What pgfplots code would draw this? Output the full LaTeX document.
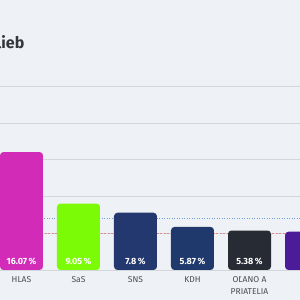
\documentclass[border=0pt]{standalone}
\usepackage{pgfplots}
\pgfplotsset{compat=1.18}
\usepackage{fontspec}
\setmainfont{Fira Sans}
\definecolor{bgcol}{HTML}{EEF1F5}
\definecolor{gridcol}{HTML}{D3D6DA}
\definecolor{cHLAS}{HTML}{D12BB8}
\definecolor{cSaS}{HTML}{7BFC06}
\definecolor{cSNS}{HTML}{22386F}
\definecolor{cKDH}{HTML}{1F396C}
\definecolor{cOLANO}{HTML}{272B33}
\definecolor{cDem}{HTML}{4B1B99}
\definecolor{labcol}{HTML}{4A4D52}
\definecolor{titcol}{HTML}{33363B}
\definecolor{redth}{HTML}{E08A85}
\definecolor{blueth}{HTML}{6E9FD8}
\begin{document}
\begin{tikzpicture}
\begin{axis}[
  name=ax,
  at={(0pt,0pt)}, anchor=south west,
  scale only axis, width=300pt, height=300pt,
  xmin=-0.377, xmax=4.886,
  ymin=-4.087, ymax=36.78,
  axis line style={draw=none},
  tick style={draw=none},
  xtick=\empty,
  ytick={0,5,10,15,20,25},
  yticklabels={},
  ymajorgrids,
  grid style={gridcol, line width=0.8pt},
  axis background/.style={fill=bgcol},
  ybar, bar width=43pt, bar shift=0pt,
  every axis plot/.append style={draw=none, rounded corners=3.5pt},
]
% thresholds
\addplot[ybar=false, sharp plot, draw=redth, dash pattern=on 2pt off 1.5pt, line width=0.7pt, rounded corners=0pt] coordinates {(-1,5) (6,5)};
\addplot[ybar=false, sharp plot, draw=blueth, dash pattern=on 1pt off 1.5pt, line width=0.7pt, rounded corners=0pt] coordinates {(-1,7) (6,7)};
% bars
\addplot[fill=cHLAS] coordinates {(0,16.07)};
\addplot[fill=cSaS] coordinates {(1,9.05)};
\addplot[fill=cSNS] coordinates {(2,7.8)};
\addplot[fill=cKDH] coordinates {(3,5.87)};
\addplot[fill=cOLANO] coordinates {(4,5.38)};
\addplot[fill=cDem] coordinates {(5,5.22)};
% value labels
\addplot[ybar=false, only marks, mark=none,
  point meta=explicit symbolic,
  nodes near coords={\pgfplotspointmeta\,\%},
  every node near coord/.style={anchor=base, yshift=5.5pt, text=white, font=\bfseries\fontsize{9}{10}\selectfont}]
  table[meta=lab] {
x y lab
0 0 16.07
1 0 9.05
2 0 7.8
3 0 5.87
4 0 5.38
5 0 5.22
};
% category labels
\addplot[ybar=false, only marks, mark=none,
  point meta=explicit symbolic,
  nodes near coords={\pgfplotspointmeta},
  every node near coord/.style={anchor=north, inner sep=0pt, yshift=0pt, text=labcol, align=center, font=\fontsize{8.5}{12}\selectfont}]
  table[meta=lab] {
x y lab
0 -0.85 HLAS
1 -0.85 SaS
2 -0.85 SNS
3 -0.85 KDH
4 -0.85 {OĽANO A\\PRIATELIA}
5 -0.85 Demokrati
};
\end{axis}
\node[anchor=base west, inner sep=0pt, text=titcol, font=\bfseries\fontsize{16}{18}\selectfont] at (-3.5pt,251pt) {lieb};
\pgfresetboundingbox
\path[use as bounding box] (0pt,0pt) rectangle (300pt,300pt);
\end{tikzpicture}
\end{document}
